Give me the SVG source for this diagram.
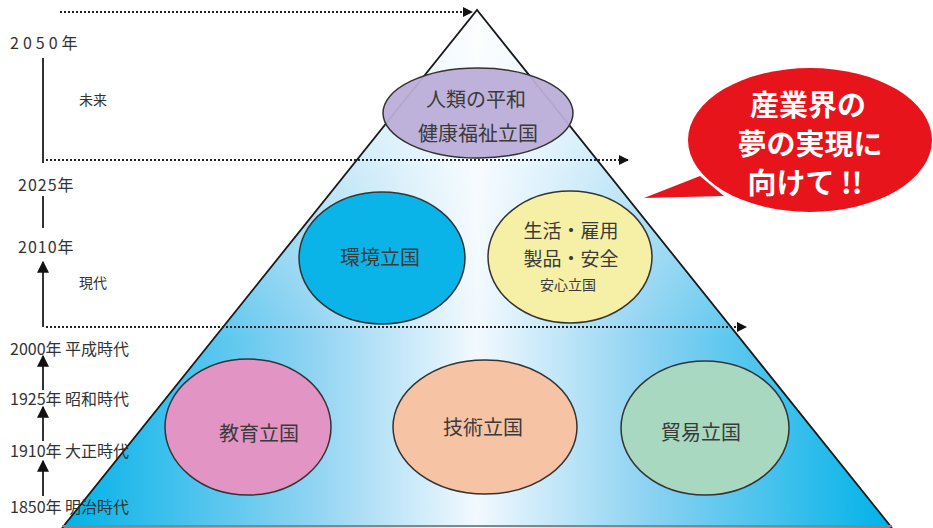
<svg xmlns="http://www.w3.org/2000/svg" width="933" height="528" viewBox="0 0 933 528">
<style>
text{font-family:"Noto Sans CJK JP","Noto Sans",sans-serif;fill:#333}
.lbl{font-size:14px}
.yr{font-size:16px}
.node{stroke:#333;stroke-width:1.5}
.nt{font-size:20px;text-anchor:middle;fill:#3a3a3a}
.dot{stroke:#222;stroke-width:2;stroke-dasharray:2 2;fill:none}
.axis{stroke:#333;stroke-width:2;fill:none}
.bub{font-size:29px;font-weight:bold;fill:#fff;text-anchor:middle}
</style>
<defs>
<linearGradient id="pg" gradientUnits="userSpaceOnUse" x1="62" y1="0" x2="892" y2="0">
<stop offset="0" stop-color="#00b2e8"/>
<stop offset="0.3" stop-color="#8fd3f2"/>
<stop offset="0.5" stop-color="#f2f9fe"/>
<stop offset="0.7" stop-color="#8fd3f2"/>
<stop offset="1" stop-color="#00b2e8"/>
</linearGradient>
<linearGradient id="vg" gradientUnits="userSpaceOnUse" x1="0" y1="10" x2="0" y2="340">
<stop offset="0" stop-color="#fff" stop-opacity="0.8"/>
<stop offset="1" stop-color="#fff" stop-opacity="0"/>
</linearGradient>
<marker id="ah" viewBox="0 0 10 10" refX="9" refY="5" markerWidth="5" markerHeight="5" orient="auto" markerUnits="strokeWidth">
<path d="M0,0 L10,5 L0,10 z" fill="#111"/>
</marker>
<marker id="au" viewBox="0 0 10 10" refX="9" refY="5" markerWidth="6" markerHeight="6" orient="auto" markerUnits="strokeWidth">
<path d="M0,0 L10,5 L0,10 z" fill="#111"/>
</marker>
</defs>
<rect width="933" height="528" fill="#fff"/>
<g id="pyramid">
<polygon points="477,10 62,528 892,528" fill="url(#pg)"/>
<polygon points="477,10 62,528 892,528" fill="url(#vg)"/>
<polyline points="62,528 477,10 892,528" fill="none" stroke="#1a1a1a" stroke-width="1.8"/>
<line x1="62" y1="526" x2="892" y2="526" stroke="#7a8a90" stroke-width="2"/>
</g>
<g id="connectors">
<line class="dot" x1="60" y1="12" x2="472" y2="12" marker-end="url(#ah)"/>
<line class="dot" x1="46" y1="160" x2="628" y2="160" marker-end="url(#ah)"/>
<line class="dot" x1="46" y1="327" x2="746" y2="327" marker-end="url(#ah)"/>
<line class="axis" x1="43" y1="58" x2="43" y2="163"/>
<line class="axis" x1="43" y1="196" x2="43" y2="228"/>
<line class="axis" x1="43" y1="327" x2="43" y2="262" marker-end="url(#au)"/>
<line class="axis" x1="43" y1="390" x2="43" y2="356" marker-end="url(#au)"/>
<line class="axis" x1="43" y1="441" x2="43" y2="407" marker-end="url(#au)"/>
<line class="axis" x1="43" y1="496" x2="43" y2="461" marker-end="url(#au)"/>
</g>
<g id="timeline">
<text class="yr" x="10" y="49" letter-spacing="4">2050年</text>
<text class="lbl" x="79" y="105">未来</text>
<text class="yr" x="18" y="191" letter-spacing="1">2025年</text>
<text class="yr" x="18" y="253" letter-spacing="1">2010年</text>
<text class="lbl" x="79" y="288">現代</text>
<text class="yr" x="10" y="355">2000年 平成時代</text>
<text class="yr" x="10" y="405">1925年 昭和時代</text>
<text class="yr" x="10" y="457">1910年 大正時代</text>
<text class="yr" x="10" y="513">1850年 明治時代</text>
</g>
<g id="node-peace">
<ellipse class="node" cx="478" cy="113" rx="95" ry="45" fill="#bcaed8" fill-opacity="0.95"/>
<text class="nt" x="476" y="107">人類の平和</text>
<text class="nt" x="478" y="141">健康福祉立国</text>
</g>
<g id="node-env">
<ellipse class="node" cx="382" cy="258" rx="83" ry="66" fill="#0ab4e8"/>
<text class="nt" x="380" y="265">環境立国</text>
</g>
<g id="node-life">
<ellipse class="node" cx="570" cy="257" rx="82" ry="66" fill="#f6f0a6"/>
<text class="nt" x="571" y="238" style="font-size:19px">生活・雇用</text>
<text class="nt" x="571" y="266" style="font-size:19px">製品・安全</text>
<text class="nt" x="568" y="290" style="font-size:14px">安心立国</text>
</g>
<g id="node-edu">
<ellipse class="node" cx="248" cy="427" rx="83" ry="68" fill="#e294c4"/>
<text class="nt" x="259" y="441">教育立国</text>
</g>
<g id="node-tech">
<ellipse class="node" cx="485" cy="427" rx="92" ry="67" fill="#f6c3a4"/>
<text class="nt" x="483" y="435">技術立国</text>
</g>
<g id="node-trade">
<ellipse class="node" cx="705" cy="428" rx="84" ry="67" fill="#a9d8c0"/>
<text class="nt" x="701" y="440">貿易立国</text>
</g>
<g id="bubble">
<path d="M700,176 L644,198 L724,196 Z" fill="#e8141b"/>
<ellipse cx="810" cy="140" rx="122" ry="72" fill="#e8141b"/>
<text class="bub" x="808" y="116">産業界の</text>
<text class="bub" x="810" y="155">夢の実現に</text>
<text class="bub" x="805" y="194">向けて !!</text>
</g>
</svg>
